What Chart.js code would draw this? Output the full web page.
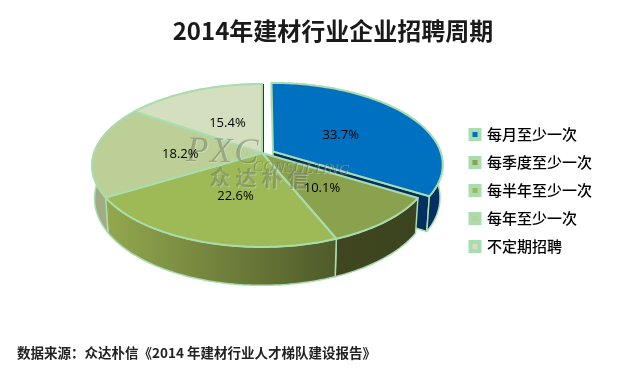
<!DOCTYPE html>
<html>
<head>
<meta charset="utf-8">
<title>2014年建材行业企业招聘周期</title>
<script src="https://cdn.jsdelivr.net/npm/chart.js@4/dist/chart.umd.min.js"></script>
<style>
    html, body { margin: 0; padding: 0; background: #fff; overflow: hidden; }
    #wrap { position: relative; width: 642px; height: 370px; }
</style>
</head>
<body>
<div id="wrap"><canvas id="pie" width="642" height="370"></canvas></div>
<script>
const categories = ['每月至少一次', '每季度至少一次', '每半年至少一次', '每年至少一次', '不定期招聘'];
const shares = [33.7, 10.1, 22.6, 18.2, 15.4];

const topColors = ['#0070c0', '#8aa24e', '#9dba57', '#bccf97', '#d3dfbf'];
const wallFrom = ['#03305e', '#40471f', '#93a84e', '#a3ab84', '#a3ab84'];
const wallTo = ['#03305e', '#3b4320', '#4f5a2a', '#a3ab84', '#a3ab84'];
const edgeColor = '#a9dcae';

const titleText = '2014年建材行业企业招聘周期';
const sourceText = '数据来源：众达朴信《2014 年建材行业人才梯队建设报告》';

// view of the tilted disc, Excel style perspective
const view = { cx: 262, cy: 153, rx: 168, ry: 79.6, persp: 0.153, depth: 32, shrink: 0.985 };
const explode = [0.075, 0, 0, 0, 0];

function project(u, v, bottom) {
    const w = 1 - view.persp * v;
    let x = view.cx + view.rx * u / w;
    let y = view.cy + view.ry * v / w;
    if (bottom) {
        x = view.cx + (x - view.cx) * view.shrink;
        y += view.depth * (1 + 0.2 * v);
    }
    return { x: x, y: y };
}

function arcPoints(arc, i, bottom) {
    const pts = [];
    const mid = (arc.startAngle + arc.endAngle) / 2;
    const du = Math.cos(mid) * explode[i];
    const dv = Math.sin(mid) * explode[i] * 0.5; // the pull out barely moves it up on screen
    const steps = Math.ceil((arc.endAngle - arc.startAngle) / 0.02);
    for (let s = 0; s <= steps; s++) {
        const a = arc.startAngle + (arc.endAngle - arc.startAngle) * s / steps;
        pts.push(project(Math.cos(a) + du, Math.sin(a) + dv, bottom));
    }
    return { pts: pts, apexTop: project(du, dv, false), apexBottom: project(du, dv, true) };
}

function tracePath(ctx, pts) {
    ctx.beginPath();
    pts.forEach((p, k) => { k ? ctx.lineTo(p.x, p.y) : ctx.moveTo(p.x, p.y); });
    ctx.closePath();
}

function drawPie(chart) {
    const ctx = chart.ctx;
    const arcs = chart.getDatasetMeta(0).data;
    ctx.save();
    ctx.lineJoin = 'round';

    // walls first, tops go over them
    arcs.forEach((arc, i) => {
        const top = arcPoints(arc, i, false);
        const bot = arcPoints(arc, i, true);
        const xs = top.pts.concat(bot.pts).map(p => p.x);
        const grad = ctx.createLinearGradient(Math.min(...xs), 0, Math.max(...xs), 0);
        grad.addColorStop(0, wallFrom[i]);
        grad.addColorStop(1, wallTo[i]);
        ctx.fillStyle = grad;
        ctx.strokeStyle = edgeColor;
        ctx.lineWidth = 1.5;
        if (explode[i] > 0) {
            // cut face of the pulled out slice
            const n = top.pts.length - 1;
            tracePath(ctx, [top.apexTop, top.pts[n], bot.pts[n], bot.apexBottom]);
            ctx.fill();
            ctx.stroke();
        }
        tracePath(ctx, top.pts.concat(bot.pts.slice().reverse()));
        ctx.fill();
        ctx.stroke();
    });

    // thin dark edge where the last slice meets the gap
    const last = arcPoints(arcs[arcs.length - 1], arcs.length - 1, false);
    ctx.strokeStyle = '#2f3a2a';
    ctx.lineWidth = 1;
    ctx.beginPath();
    ctx.moveTo(last.pts[last.pts.length - 1].x + 1.5, last.pts[last.pts.length - 1].y);
    ctx.lineTo(last.apexTop.x + 1.5, last.apexTop.y);
    ctx.stroke();

    arcs.forEach((arc, i) => {
        const top = arcPoints(arc, i, false);
        tracePath(ctx, [top.apexTop].concat(top.pts));
        ctx.fillStyle = topColors[i];
        ctx.fill();
        ctx.strokeStyle = edgeColor;
        ctx.lineWidth = 2;
        ctx.stroke();
    });
    ctx.restore();
}

function drawWatermark(ctx) {
    ctx.save();
    ctx.textBaseline = 'alphabetic';
    ctx.textAlign = 'left';
    ctx.shadowColor = 'rgba(255,255,255,0.6)';
    ctx.shadowOffsetX = 1;
    ctx.shadowOffsetY = 1;
    ctx.shadowBlur = 0;
    ctx.fillStyle = 'rgba(95,105,85,0.45)';
    ctx.translate(186, 161);
    ctx.rotate(0.03);
    ctx.font = 'italic 36px "Liberation Serif"';
    ctx.letterSpacing = '2px';
    ctx.fillText('PXC', 0, 0);
    ctx.font = 'italic 15px "Liberation Serif"';
    ctx.letterSpacing = '0.5px';
    ctx.fillText('CONSULTING', 67, 8);
    ctx.font = 'bold 21px "Noto Sans CJK SC"';
    ctx.letterSpacing = '5px';
    ctx.fillText('众达朴信', 24, 23);
    ctx.restore();
}

function drawPercents(chart) {
    const ctx = chart.ctx;
    const arcs = chart.getDatasetMeta(0).data;
    ctx.save();
    ctx.font = '13px "Open Sans"';
    ctx.fillStyle = '#000';
    ctx.textAlign = 'center';
    ctx.textBaseline = 'middle';
    arcs.forEach((arc, i) => {
        const mid = (arc.startAngle + arc.endAngle) / 2;
        const u = Math.cos(mid) * (0.5 + explode[i] * 0.6);
        const v = Math.sin(mid) * (0.5 + explode[i] * 0.6);
        const p = project(u, v, false);
        ctx.fillText(shares[i].toFixed(1) + '%', p.x + 2, p.y + 3);
    });
    ctx.restore();
}

const pie3d = {
    id: 'pie3d',
    afterLayout(chart) {
        // legend sits left of where the layout puts it
        const lg = chart.legend;
        const w = lg.right - lg.left;
        const h = lg.bottom - lg.top;
        lg.left = 457.5;
        lg.right = lg.left + w;
        lg.top = 114;
        lg.bottom = lg.top + h;
    },
    beforeDatasetDraw(chart) {
        drawPie(chart);
        return false; // native flat arcs are replaced by the tilted ones
    },
    afterDatasetsDraw(chart) {
        drawWatermark(chart.ctx);
        drawPercents(chart);
    }
};

new Chart(document.getElementById('pie'), {
    type: 'pie',
    data: {
        labels: categories,
        datasets: [{ data: shares, backgroundColor: topColors, borderColor: edgeColor, borderWidth: 2 }]
    },
    options: {
        responsive: false,
        animation: false,
        layout: { padding: { left: 17, right: -7 } },
        plugins: {
            title: {
                display: true,
                text: titleText,
                color: '#1a1a1a',
                font: { family: '"Noto Sans CJK SC"', size: 24, weight: 'bold' },
                padding: { top: 16, bottom: 8 }
            },
            subtitle: {
                display: true,
                text: sourceText,
                position: 'bottom',
                align: 'start',
                color: '#222',
                font: { family: '"Noto Sans CJK SC"', size: 13.5, weight: 'bold' },
                padding: { top: 4, bottom: 9 }
            },
            legend: {
                position: 'right',
                align: 'start',
                labels: {
                    color: '#000',
                    font: { family: '"Noto Sans CJK SC"', size: 15, weight: '500' },
                    boxWidth: 9,
                    boxHeight: 9,
                    padding: 13,
                    generateLabels: () => categories.map((name, i) => ({
                        text: name,
                        fillStyle: topColors[i],
                        strokeStyle: edgeColor,
                        lineWidth: 4,
                        index: i
                    }))
                }
            },
            tooltip: { enabled: false }
        }
    },
    plugins: [pie3d]
});
</script>
</body>
</html>
